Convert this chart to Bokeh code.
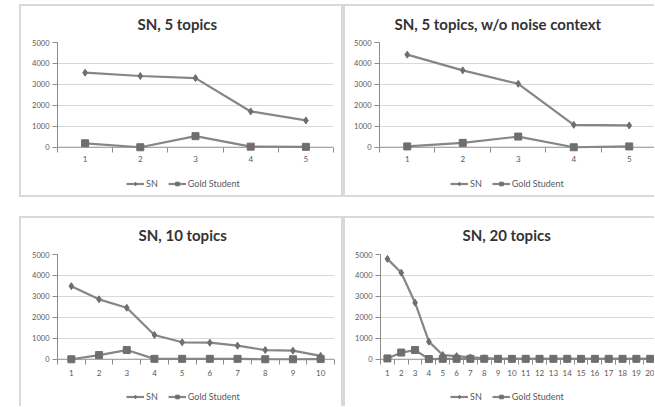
from bokeh.plotting import figure
from bokeh.models import (Range1d, FixedTicker, Legend, LegendItem, Spacer, Span)
from bokeh.layouts import row, column
from bokeh.embed import file_html
from bokeh.resources import INLINE

# ---------------- data ----------------
x5 = [1, 2, 3, 4, 5]
sn_5 = [3560, 3400, 3300, 1710, 1280]
gold_5 = [190, 0, 530, 30, 20]

sn_5_nonoise = [4420, 3670, 3030, 1070, 1040]
gold_5_nonoise = [40, 210, 510, 0, 40]

x10 = [1, 2, 3, 4, 5, 6, 7, 8, 9, 10]
sn_10 = [3490, 2860, 2460, 1160, 810, 790, 650, 440, 410, 160]
gold_10 = [0, 200, 440, 20, 20, 20, 20, 0, 0, 10]

x20 = list(range(1, 21))
sn_20 = [4790, 4130, 2700, 840, 200, 150, 90, 50, 20, 20,
         20, 20, 20, 20, 20, 20, 20, 20, 20, 20]
gold_20 = [40, 320, 440, 10, 20, 20, 20, 20, 20, 20,
           20, 20, 20, 20, 20, 20, 20, 20, 20, 20]

titles = ["SN, 5 topics", "SN, 5 topics, w/o noise context",
          "SN, 10 topics", "SN, 20 topics"]
y_ticks = [0, 1000, 2000, 3000, 4000, 5000]
series_names = ["SN", "Gold Student"]

FONT = "Lato"
LINE_C = "#868686"
MARK_C = "#6e6e6e"
GRID_C = "#d9d9d9"
AXIS_C = "#8c8c8c"
TEXT_C = "#595959"
BORDER_C = "#d9d9d9"


def style_series(p, xs, sn, gold):
    l1 = p.line(xs, sn, line_color=LINE_C, line_width=2.2)
    m1 = p.scatter(xs, sn, marker="diamond", size=7, fill_color=MARK_C,
                   line_color=MARK_C)
    l2 = p.line(xs, gold, line_color=LINE_C, line_width=2.2)
    m2 = p.scatter(xs, gold, marker="square", size=7, fill_color=MARK_C,
                   line_color=MARK_C)
    return l1, m1, l2, m2


def make_main(xs, sn, gold, title, width, height, x_end, mb, title_offset,
              title_standoff, label_standoff):
    n = len(xs)
    p = figure(width=width, height=height, output_backend="svg",
               toolbar_location=None, frame_align=False,
               x_range=Range1d(0.5, x_end), y_range=Range1d(-250, 5000),
               min_border_left=mb[0], min_border_right=mb[1],
               min_border_top=mb[2], min_border_bottom=mb[3])
    p.outline_line_color = None
    p.border_fill_color = None
    p.background_fill_color = "white"

    p.title.text = title
    p.title.align = "left"
    p.title.vertical_align = "top"
    p.title.offset = title_offset
    p.title.standoff = title_standoff
    p.title.text_font = FONT
    p.title.text_font_size = "15px"
    p.title.text_font_style = "bold"
    p.title.text_color = "#333333"

    xa = p.xaxis[0]
    xa.ticker = FixedTicker(ticks=xs, minor_ticks=[i + 0.5 for i in range(n + 1)])
    xa.axis_line_color = None
    xa.major_tick_line_color = None
    xa.major_tick_out = 0
    xa.major_tick_in = 0
    xa.minor_tick_line_color = AXIS_C
    xa.minor_tick_out = 0
    xa.minor_tick_in = 5
    xa.major_label_standoff = label_standoff
    xa.major_label_text_font = FONT
    xa.major_label_text_font_size = "8px"
    xa.major_label_text_color = TEXT_C

    ya = p.yaxis[0]
    ya.ticker = FixedTicker(ticks=y_ticks, minor_ticks=[])
    ya.bounds = (0, 5000)
    ya.axis_line_color = AXIS_C
    ya.major_tick_line_color = AXIS_C
    ya.major_tick_out = 5
    ya.major_tick_in = 0
    ya.minor_tick_line_color = None
    ya.major_label_standoff = 3
    ya.major_label_text_font = FONT
    ya.major_label_text_font_size = "7.5px"
    ya.major_label_text_color = TEXT_C

    p.xgrid.grid_line_color = None
    p.ygrid.ticker = FixedTicker(ticks=[1000, 2000, 3000, 4000, 5000])
    p.ygrid.grid_line_color = GRID_C
    p.ygrid.grid_line_width = 1

    p.add_layout(Span(location=0, dimension="width", line_color=AXIS_C,
                      line_width=1, level="underlay"))
    style_series(p, xs, sn, gold)
    return p


def make_legend(xs, sn, gold, width, height, loc):
    # legend strip; its series renderers sit outside the visible y range
    q = figure(width=width, height=height, output_backend="svg",
               toolbar_location=None, x_axis_type=None, y_axis_type=None,
               frame_align=False,
               x_range=Range1d(0, 1), y_range=Range1d(10000, 20000),
               min_border_left=0, min_border_right=0,
               min_border_top=0, min_border_bottom=0)
    q.outline_line_color = None
    q.border_fill_color = None
    q.background_fill_color = None
    l1, m1, l2, m2 = style_series(q, xs, sn, gold)
    legend = Legend(items=[LegendItem(label=series_names[0], renderers=[l1, m1]),
                           LegendItem(label=series_names[1], renderers=[l2, m2])],
                    orientation="horizontal", location=loc)
    legend.label_text_font = FONT
    legend.label_text_font_size = "9px"
    legend.label_text_color = TEXT_C
    legend.glyph_width = 18
    legend.glyph_height = 9
    legend.label_height = 9
    legend.label_width = 10
    legend.label_standoff = 2
    legend.spacing = 10
    legend.padding = 0
    legend.margin = 0
    legend.border_line_color = None
    legend.background_fill_color = None
    q.add_layout(legend)
    return q


def panel(main, leg, shadow):
    col = column(main, leg, spacing=0)
    col.styles = {"box-shadow": shadow, "background-color": "white"}
    return col


c = BORDER_C
p1 = make_main(x5, sn_5, gold_5, titles[0], 324, 164, 5.5, (38, 10, 38, 16),
               80, 16, 3)
g1 = make_legend(x5, sn_5, gold_5, 324, 29, (107, 8))
p2 = make_main(x5, sn_5_nonoise, gold_5_nonoise, titles[1], 311, 164, 5.455,
               (36, 0, 38, 16), 15, 16, 3)
g2 = make_legend(x5, sn_5_nonoise, gold_5_nonoise, 311, 29, (107, 8))
p3 = make_main(x10, sn_10, gold_10, titles[2], 324, 166, 10.5, (38, 9, 38, 18),
               81, 17, 5)
g3 = make_legend(x10, sn_10, gold_10, 324, 24, (107, 4))
p4 = make_main(x20, sn_20, gold_20, titles[3], 311, 166, 20.31, (37, 0, 38, 18),
               82, 17, 5)
g4 = make_legend(x20, sn_20, gold_20, 311, 24, (107, 4))

layout = column(
    Spacer(width=10, height=4),
    row(Spacer(width=19, height=193),
        panel(p1, g1, f"inset 0 0 0 2px {c}"),
        panel(p2, g2, f"inset 2px 0 0 0 {c}, inset 0 2px 0 0 {c}, inset 0 -2px 0 0 {c}")),
    Spacer(width=10, height=19),
    row(Spacer(width=19, height=190),
        panel(p3, g3, f"inset 2px 0 0 0 {c}, inset -2px 0 0 0 {c}, inset 0 2px 0 0 {c}"),
        panel(p4, g4, f"inset 2px 0 0 0 {c}, inset 0 2px 0 0 {c}")),
)

open("out.html", "w").write(file_html(layout, INLINE))
